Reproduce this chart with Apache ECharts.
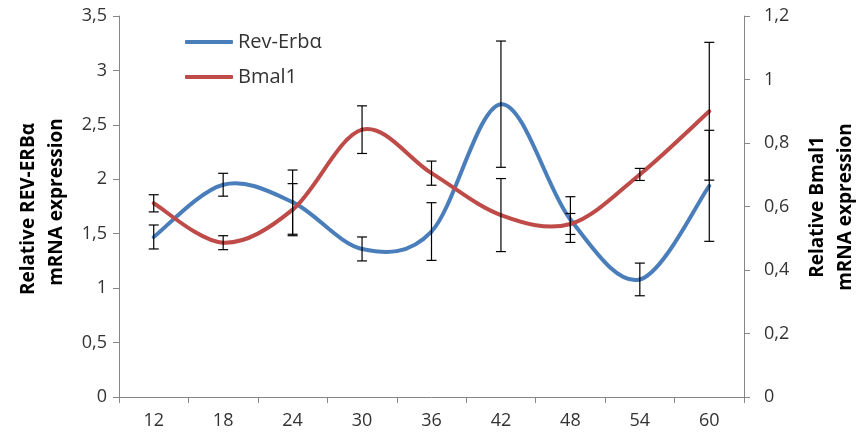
<!DOCTYPE html>
<html>
<head>
<meta charset="utf-8">
<script src="https://cdn.jsdelivr.net/npm/echarts@6/dist/echarts.min.js"></script>
<style>html,body{margin:0;padding:0;background:#fff;}#c{width:861px;height:437px;}</style>
</head>
<body>
<div id="c"></div>
<script>
const categories = ['12', '18', '24', '30', '36', '42', '48', '54', '60'];
const revErb = [1.47, 1.95, 1.79, 1.36, 1.52, 2.69, 1.63, 1.08, 1.94];
const revErbErr = [0.11, 0.105, 0.295, 0.11, 0.265, 0.58, 0.21, 0.15, 0.51];
const bmal1 = [0.61, 0.486, 0.59, 0.842, 0.705, 0.573, 0.545, 0.701, 0.90];
const bmal1Err = [0.027, 0.022, 0.082, 0.075, 0.038, 0.115, 0.033, 0.019, 0.217];
const leftTicks = { min: 0, max: 3.5, interval: 0.5 };
const rightTicks = { min: 0, max: 1.2, interval: 0.2 };

const FONT = '"Open Sans"';
const axisColor = '#868686';
const labelColor = '#333333';
const BLUE = '#4A7EBB';
const RED = '#BE4B48';

function errData(vals, errs) {
  return vals.map((v, i) => [i, v - errs[i], v + errs[i]]);
}
function renderErr(params, api) {
  const lo = api.coord([api.value(0), api.value(1)]);
  const hi = api.coord([api.value(0), api.value(2)]);
  const w = 5;
  const st = { stroke: '#000', lineWidth: 1.2 };
  return {
    type: 'group',
    children: [
      { type: 'line', shape: { x1: lo[0], y1: lo[1], x2: hi[0], y2: hi[1] }, style: st },
      { type: 'line', shape: { x1: lo[0] - w, y1: lo[1], x2: lo[0] + w, y2: lo[1] }, style: st },
      { type: 'line', shape: { x1: hi[0] - w, y1: hi[1], x2: hi[0] + w, y2: hi[1] }, style: st }
    ]
  };
}
// Smoothed (Catmull-Rom style) segment from point i to i+1, like a spreadsheet smoothed line
function smoothRenderer(vals, color) {
  return function (params, api) {
    const i = api.value(0);
    const n = vals.length;
    if (i >= n - 1) return null;
    const P = j => api.coord([Math.max(0, Math.min(n - 1, j)), vals[Math.max(0, Math.min(n - 1, j))]]);
    const p0 = P(i - 1), p1 = P(i), p2 = P(i + 1), p3 = P(i + 2);
    const t = 1 / 6;
    const c1 = [p1[0] + (p2[0] - p0[0]) * t, p1[1] + (p2[1] - p0[1]) * t];
    const c2 = [p2[0] - (p3[0] - p1[0]) * t, p2[1] - (p3[1] - p1[1]) * t];
    return {
      type: 'bezierCurve',
      shape: { x1: p1[0], y1: p1[1], x2: p2[0], y2: p2[1], cpx1: c1[0], cpy1: c1[1], cpx2: c2[0], cpy2: c2[1] },
      style: { stroke: color, lineWidth: 4, fill: null, lineCap: 'round' }
    };
  };
}
const fmt = v => String(+v.toFixed(2)).replace('.', ',');

const chart = echarts.init(document.getElementById('c'));
chart.setOption({
  animation: false,
  backgroundColor: '#fff',
  color: [BLUE, RED],
  textStyle: { fontFamily: FONT },
  grid: { left: 119, right: 117, top: 16, bottom: 40 },
  legend: {
    orient: 'vertical', left: 185, top: 31, itemGap: 13, padding: 0,
    itemWidth: 48, itemHeight: 4, icon: 'roundRect',
    textStyle: { fontFamily: FONT, fontSize: 20, color: labelColor, lineHeight: 22 },
    data: [
      { name: 'Rev-Erbα', itemStyle: { color: BLUE } },
      { name: 'Bmal1', itemStyle: { color: RED } }
    ]
  },
  xAxis: {
    type: 'category', data: categories, boundaryGap: true,
    axisLine: { lineStyle: { color: axisColor, width: 1 } },
    axisTick: { show: true, length: 6, lineStyle: { color: axisColor } },
    axisLabel: { fontFamily: FONT, fontSize: 18, color: labelColor, margin: 15 }
  },
  yAxis: [
    {
      type: 'value', min: leftTicks.min, max: leftTicks.max, interval: leftTicks.interval,
      position: 'left',
      axisLine: { show: true, lineStyle: { color: axisColor } },
      axisTick: { show: true, length: 6, lineStyle: { color: axisColor } },
      splitLine: { show: false },
      axisLabel: { fontFamily: FONT, fontSize: 18, color: labelColor, margin: 12, formatter: fmt }
    },
    {
      type: 'value', min: rightTicks.min, max: rightTicks.max, interval: rightTicks.interval,
      position: 'right',
      axisLine: { show: true, lineStyle: { color: axisColor } },
      axisTick: { show: true, length: 6, lineStyle: { color: axisColor } },
      splitLine: { show: false },
      axisLabel: { fontFamily: FONT, fontSize: 18, color: labelColor, margin: 20, formatter: fmt }
    }
  ],
  series: [
    {
      name: 'Rev-Erbα', type: 'custom', yAxisIndex: 0,
      data: revErb.map((v, i) => [i, v]), encode: { x: 0, y: 1 },
      itemStyle: { color: BLUE },
      renderItem: smoothRenderer(revErb, BLUE), z: 3, silent: true
    },
    {
      name: 'Bmal1', type: 'custom', yAxisIndex: 1,
      data: bmal1.map((v, i) => [i, v]), encode: { x: 0, y: 1 },
      itemStyle: { color: RED },
      renderItem: smoothRenderer(bmal1, RED), z: 3, silent: true
    },
    {
      name: 'revErr', type: 'custom', yAxisIndex: 0, data: errData(revErb, revErbErr),
      renderItem: renderErr, encode: { x: 0, y: [1, 2] }, z: 4, silent: true
    },
    {
      name: 'bmalErr', type: 'custom', yAxisIndex: 1, data: errData(bmal1, bmal1Err),
      renderItem: renderErr, encode: { x: 0, y: [1, 2] }, z: 4, silent: true
    }
  ],
  graphic: [
    { type: 'text', x: 29, y: 209, rotation: Math.PI / 2,
      style: { text: 'Relative REV-ERBα', fontFamily: FONT, fontWeight: 'bold', fontSize: 19, fill: '#000', align: 'center', verticalAlign: 'middle' } },
    { type: 'text', x: 57, y: 202, rotation: Math.PI / 2,
      style: { text: 'mRNA expression', fontFamily: FONT, fontWeight: 'bold', fontSize: 19, fill: '#000', align: 'center', verticalAlign: 'middle' } },
    { type: 'text', x: 818, y: 207, rotation: Math.PI / 2,
      style: { text: 'Relative Bmal1', fontFamily: FONT, fontWeight: 'bold', fontSize: 19, fill: '#000', align: 'center', verticalAlign: 'middle' } },
    { type: 'text', x: 846, y: 207, rotation: Math.PI / 2,
      style: { text: 'mRNA expression', fontFamily: FONT, fontWeight: 'bold', fontSize: 19, fill: '#000', align: 'center', verticalAlign: 'middle' } }
  ]
});
</script>
</body>
</html>
